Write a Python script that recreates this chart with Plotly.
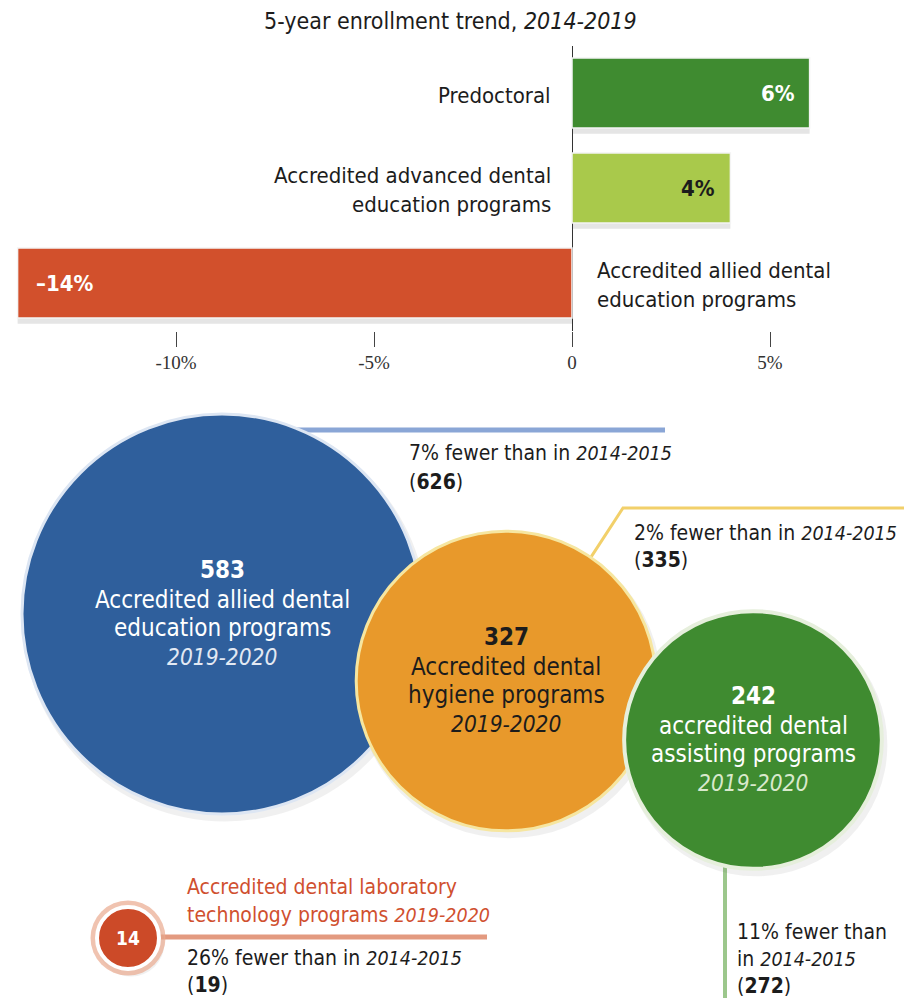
import math
import plotly.graph_objects as go

# ---- 5-year enrollment trend, 2014-2019 ----
programs = [
    "Predoctoral",
    "Accredited advanced dental<br>education programs",
    "Accredited allied dental<br>education programs",
]
trend_pct = [6, 4, -14]
bar_colors = ["#3f8b30", "#a9c94b", "#d2502c"]
value_colors = ["#ffffff", "#1c1c1c", "#ffffff"]

tick_vals = [-10, -5, 0, 5]
tick_text = ["-10%", "-5%", "0", "5%"]

# ---- program counts, 2019-2020 vs 2014-2015 ----
count_names = [
    ["Accredited allied dental", "education programs"],
    ["Accredited dental", "hygiene programs"],
    ["accredited dental", "assisting programs"],
    ["Accredited dental laboratory", "technology programs"],
]
counts_2019 = [583, 327, 242, 14]
counts_2014 = [626, 335, 272, 19]
fewer_pct = [7, 2, 11, 26]
circle_colors = ["#2f5f9c", "#e8992b", "#3f8b30", "#cc4a28"]
circle_edges = ["#dde6f3", "#f6e6a0", "#e6efdc", "#ffffff"]
name_colors = ["#ffffff", "#1c1c1c", "#ffffff", "#ffffff"]
year_colors = ["#e3e9f3", "#1c1c1c", "#d9e9cc", "#ffffff"]
leader_colors = ["#8aa6d6", "#f2d06a", "#9cc78c", "#e39a80"]

# layout of the bubble panel (pixel units, origin top-left)
centers = [(222, 614), (506, 681), (753, 740), (128, 938)]
MAX_D = 400.0

SANS = "DejaVu Sans Condensed, DejaVu Sans, sans-serif"
SERIF = "Liberation Serif, Times New Roman, serif"
DARK = "#1c1c1c"
W, H = 904, 998


def years(label, size):
    """Italic season label, set a touch smaller than the running text."""
    return f'<span style="font-size:{size}px"><i>{label}</i></span>'


fig = go.Figure()

# soft shadow under each bar, then the bars
fig.add_trace(go.Bar(
    x=trend_pct, y=programs, orientation="h",
    marker=dict(color="rgba(70,70,70,0.14)", line=dict(width=0)),
    width=0.737, offset=-0.737 / 2 + 0.06, hoverinfo="skip", showlegend=False,
    xaxis="x", yaxis="y",
))
fig.add_trace(go.Bar(
    x=trend_pct, y=programs, orientation="h",
    marker=dict(color=bar_colors, line=dict(color="#f4f4f4", width=1.5)),
    width=0.737, hoverinfo="skip", showlegend=False,
    xaxis="x", yaxis="y",
))

diam = [MAX_D * math.sqrt(c / max(counts_2019)) for c in counts_2019]
cx = [c[0] for c in centers]
cy = [c[1] for c in centers]

# leader lines (drawn beneath the circles)
r = [d / 2 for d in diam]
leaders = [
    ([cx[0], 665], [430, 430]),
    ([cx[1] + 0.55 * r[1], 623, W], [cy[1] - 0.8 * r[1], 508, 508]),
    ([725, 725], [cy[2], H]),
    ([cx[3], 487], [937, 937]),
]
leader_widths = [5, 3, 4, 5]
for (lx, ly), col, lw in zip(leaders, leader_colors, leader_widths):
    fig.add_trace(go.Scatter(
        x=lx, y=ly, mode="lines", line=dict(color=col, width=lw),
        hoverinfo="skip", showlegend=False, xaxis="x2", yaxis="y2",
    ))

# soft drop shadows
fig.add_trace(go.Scatter(
    x=[x + 3 for x in cx], y=[y + 5 for y in cy], mode="markers",
    marker=dict(size=[d + 5 for d in diam], color="rgba(60,60,60,0.11)", line=dict(width=0)),
    hoverinfo="skip", showlegend=False, xaxis="x2", yaxis="y2",
))
# halo ring around the small circle
fig.add_trace(go.Scatter(
    x=[cx[3]], y=[cy[3]], mode="markers",
    marker=dict(size=[diam[3] + 13], color="#eaa98f", line=dict(width=0)),
    hoverinfo="skip", showlegend=False, xaxis="x2", yaxis="y2",
))
# the count circles
fig.add_trace(go.Scatter(
    x=cx, y=cy, mode="markers",
    marker=dict(size=diam, sizemode="diameter", color=circle_colors,
                line=dict(color=circle_edges, width=[3, 3, 4, 4]), opacity=1),
    hoverinfo="skip", showlegend=False, xaxis="x2", yaxis="y2",
))

ann = []


def txt(x, y, text, size=23, color=DARK, xanchor="center", family=SANS, **kw):
    ann.append(dict(x=x, y=y, xref="x2", yref="y2", text=text, showarrow=False,
                    xanchor=xanchor, yanchor="middle",
                    font=dict(family=family, size=size, color=color), **kw))


# title
txt(450, 21, "5-year enrollment trend, <i>2014-2019</i>", size=23)

# bar category labels
label_side = ["right", "right", "left"]
for name, v, side in zip(programs, trend_pct, label_side):
    ann.append(dict(
        x=0, y=name, xref="x", yref="y", text=name, showarrow=False,
        xanchor=side, align=side, xshift=-19 if side == "right" else 23, yshift=-2,
        font=dict(family=SANS, size=22, color=DARK),
    ))
# bar value labels
for name, v, col in zip(programs, trend_pct, value_colors):
    label = f"{v}%".replace("-", "\u2013")
    ann.append(dict(
        x=v, y=name, xref="x", yref="y", text=f"<b>{label}</b>", showarrow=False,
        xanchor="right" if v > 0 else "left", xshift=-13 if v > 0 else 16,
        font=dict(family=SANS, size=22, color=col),
    ))

# text inside the three big circles
line_offsets = [-44, -14, 14, 43]
for i in range(3):
    x, y = centers[i]
    txt(x, y + line_offsets[0], f"<b>{counts_2019[i]}</b>", size=24, color=name_colors[i])
    txt(x, y + line_offsets[1], count_names[i][0], size=24, color=name_colors[i])
    txt(x, y + line_offsets[2], count_names[i][1], size=24, color=name_colors[i])
    txt(x, y + line_offsets[3], years("2019-2020", 22.5), size=24, color=year_colors[i])

# small circle label
txt(cx[3], cy[3], f"<b>{counts_2019[3]}</b>", size=19, color="#ffffff")

# change call-outs
Y14 = years("2014-2015", 19.5)
txt(407, 453, f"{fewer_pct[0]}% fewer than in {Y14}", size=21, xanchor="left")
txt(407, 482, f"(<b>{counts_2014[0]}</b>)", size=21, xanchor="left")
txt(632, 533, f"{fewer_pct[1]}% fewer than in {Y14}", size=21, xanchor="left")
txt(632, 560, f"(<b>{counts_2014[1]}</b>)", size=21, xanchor="left")
txt(735, 932, f"{fewer_pct[2]}% fewer than", size=21, xanchor="left")
txt(735, 959, f"in {Y14}", size=21, xanchor="left")
txt(735, 986, f"(<b>{counts_2014[2]}</b>)", size=21, xanchor="left")
txt(185, 887, count_names[3][0], size=21, color="#d0502f", xanchor="left")
txt(185, 915, f"{count_names[3][1]} {years('2019-2020', 19.5)}", size=21,
    color="#d0502f", xanchor="left")
txt(185, 958, f"{fewer_pct[3]}% fewer than in {Y14}", size=21, xanchor="left")
txt(185, 985, f"(<b>{counts_2014[3]}</b>)", size=21, xanchor="left")

# axis geometry: zero at x=572px, 39.6 px per percentage point
px_per_pct = 39.6
zero_px = 572
x_range = [-zero_px / px_per_pct, (W - zero_px) / px_per_pct]
slot = 95
top_px = 93 - slot / 2
bottom_px = top_px + 3 * slot

fig.update_layout(
    width=W, height=H,
    margin=dict(l=0, r=0, t=0, b=0),
    paper_bgcolor="white", plot_bgcolor="rgba(0,0,0,0)",
    showlegend=False, barmode="overlay",
    annotations=ann,
    xaxis=dict(
        domain=[0, 1], range=x_range, anchor="y",
        tickmode="array", tickvals=tick_vals, ticktext=tick_text,
        ticks="outside", ticklen=15, tickwidth=1.2, tickcolor="#444",
        tickfont=dict(family=SERIF, size=19, color="#333"),
        showgrid=False, showline=False,
        zeroline=True, zerolinecolor="#333", zerolinewidth=1.2,
        fixedrange=True,
    ),
    yaxis=dict(
        domain=[1 - bottom_px / H, 1 - top_px / H], anchor="x",
        type="category", categoryorder="array", categoryarray=programs,
        range=[2.5, -0.5], showticklabels=False, showgrid=False,
        zeroline=False, showline=False, ticks="", fixedrange=True,
    ),
    xaxis2=dict(domain=[0, 1], range=[0, W], anchor="y2", visible=False, fixedrange=True),
    yaxis2=dict(domain=[0, 1], range=[H, 0], anchor="x2", visible=False, fixedrange=True),
)

fig.write_html("out.html")
